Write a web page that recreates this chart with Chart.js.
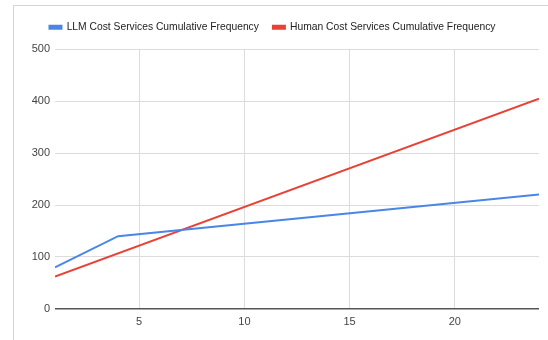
<!DOCTYPE html>
<html>
<head>
<meta charset="utf-8">
<script src="https://cdn.jsdelivr.net/npm/chart.js@4"></script>
<style>
  html, body { margin: 0; padding: 0; background: #fff; }
  #wrap { position: relative; width: 548px; height: 340px; overflow: hidden; }
  #frame { position: absolute; left: 13px; top: 5px; width: 600px; height: 400px; border: 1px solid #d4d4d4; }
  #chart { position: absolute; left: 0; top: 0; }
</style>
</head>
<body>
<div id="wrap">
  <div id="frame"></div>
  <canvas id="chart" width="548" height="340"></canvas>
</div>
<script>
// --- Data ---
const llmX = [1, 4, 24];
const llmY = [80, 140, 220];
const humanX = [1, 24];
const humanY = [62, 405];
const xTickValues = [5, 10, 15, 20];
const seriesNames = ['LLM Cost Services Cumulative Frequency', 'Human Cost Services Cumulative Frequency'];

const toPoints = (xs, ys) => xs.map((x, i) => ({ x: x, y: ys[i] }));

// extra gap between legend and plot area
const legendGap = {
    id: 'legendGap',
    beforeInit(chart) {
        const origFit = chart.legend.fit;
        chart.legend.fit = function () {
            origFit.bind(chart.legend)();
            this.height += 7;
        };
    }
};

const ctx = document.getElementById('chart').getContext('2d');

new Chart(ctx, {
    type: 'line',
    data: {
        datasets: [{
            label: seriesNames[0],
            data: toPoints(llmX, llmY),
            borderColor: '#4a86e8',
            backgroundColor: '#4a86e8',
            borderWidth: 2,
            pointRadius: 0,
            tension: 0
        }, {
            label: seriesNames[1],
            data: toPoints(humanX, humanY),
            borderColor: '#e84236',
            backgroundColor: '#e84236',
            borderWidth: 2,
            pointRadius: 0,
            tension: 0
        }]
    },
    options: {
        responsive: false,
        animation: false,
        layout: { padding: { left: 6, right: 9, top: 8, bottom: 4 } },
        plugins: {
            legend: {
                display: true,
                position: 'top',
                labels: {
                    boxWidth: 12,
                    boxHeight: 3,
                    padding: 14,
                    color: '#222',
                    font: { family: 'Liberation Sans, Arial', size: 10.3 }
                }
            },
            tooltip: { enabled: false }
        },
        scales: {
            x: {
                type: 'linear',
                min: 1,
                max: 24,
                afterBuildTicks: (scale) => {
                    scale.ticks = xTickValues.map(v => ({ value: v }));
                },
                ticks: {
                    color: '#444',
                    padding: 7,
                    font: { family: 'Liberation Sans, Arial', size: 11 }
                },
                grid: { color: '#dcdcdc', drawTicks: false },
                border: { display: false }
            },
            y: {
                min: 0,
                max: 500,
                afterFit: (scale) => { scale.width = 49; },
                ticks: {
                    stepSize: 100,
                    color: '#444',
                    padding: 5,
                    font: { family: 'Liberation Sans, Arial', size: 11 }
                },
                grid: {
                    drawTicks: false,
                    color: (c) => c.tick && c.tick.value === 0 ? '#555' : '#dcdcdc',
                    lineWidth: (c) => c.tick && c.tick.value === 0 ? 1.5 : 1
                },
                border: { display: false }
            }
        }
    },
    plugins: [legendGap]
});
</script>
</body>
</html>
